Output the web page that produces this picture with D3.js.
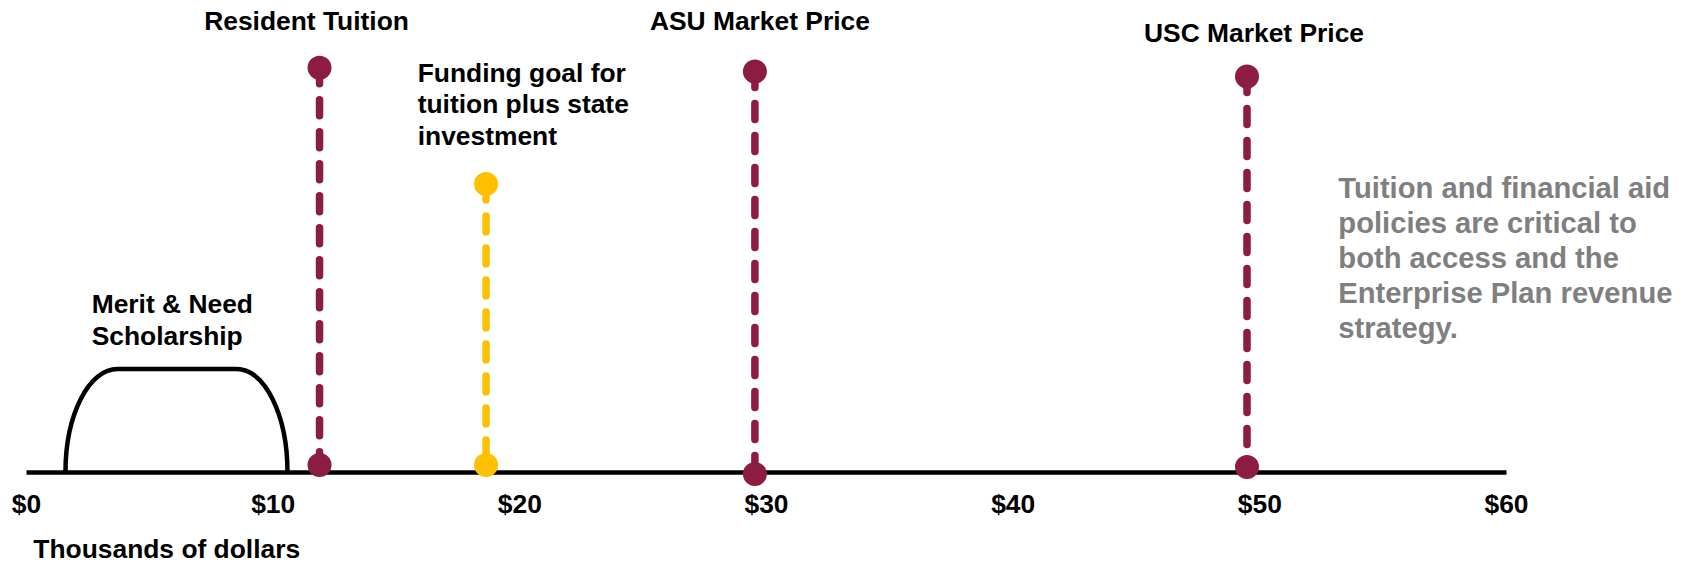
<!DOCTYPE html>
<html>
<head>
<meta charset="utf-8">
<script src="https://cdn.jsdelivr.net/npm/d3@7"></script>
<style>
  body { margin: 0; background: #fff; }
  svg { display: block; font-family: "Liberation Sans", Arial, sans-serif; font-weight: bold; }
</style>
</head>
<body>
<div id="chart"></div>
<script>
// axis ticks (thousands of dollars)
var tickValues = [0, 10, 20, 30, 40, 50, 60];

// price markers: value on the axis, height of the top dot, height of the base dot
var markerNames = ["Resident Tuition", "Funding goal", "ASU Market Price", "USC Market Price"];
var markerValues = [11.9, 18.65, 29.55, 49.5];
var markerTops = [98.1, 69.9, 97.2, 96.0];
var markerBases = [1.7, 1.7, -0.5, 1.2];
var markerKinds = ["price", "goal", "price", "price"];

// scholarship band: foot, shoulder, shoulder, foot (thousands) and its height
var scholarshipRange = [1.6, 3.7, 8.55, 10.6];
var scholarshipLevel = 25;

var noteLines = ["Tuition and financial aid", "policies are critical to", "both access and the", "Enterprise Plan revenue", "strategy."];

var width = 1690, height = 564;
var maroon = "#8C1D40", gold = "#FFC000";

var svg = d3.select("#chart").append("svg")
    .attr("width", width)
    .attr("height", height);

var x = d3.scaleLinear().domain([0, 60]).range([26, 1506]);
var y = d3.scaleLinear().domain([0, 100]).range([472, 60]);

// scholarship hump
var s = scholarshipRange;
var rx = x(s[1]) - x(s[0]), ry = y(0) - y(scholarshipLevel);
svg.append("path")
    .attr("d", "M" + x(s[0]) + "," + y(0) +
      " A" + rx + "," + ry + " 0 0 1 " + x(s[1]) + "," + y(scholarshipLevel) +
      " L" + x(s[2]) + "," + y(scholarshipLevel) +
      " A" + (x(s[3]) - x(s[2])) + "," + ry + " 0 0 1 " + x(s[3]) + "," + y(0))
    .attr("fill", "none")
    .attr("stroke", "#000")
    .attr("stroke-width", 4.5);

// axis
var axis = svg.append("g")
    .attr("transform", "translate(0," + y(0) + ")")
    .call(d3.axisBottom(x).tickValues(tickValues).tickFormat(function(d) { return "$" + d; })
      .tickSize(0).tickSizeOuter(0));
axis.select(".domain").attr("stroke", "#000").attr("stroke-width", 4.5);
axis.selectAll("text")
    .attr("y", 41).attr("dy", null)
    .attr("fill", "#000")
    .style("font-size", "26.4px")
    .style("font-family", "'Liberation Sans', Arial, sans-serif")
    .style("font-weight", "bold");

var markers = markerValues.map(function(v, i) {
  return { name: markerNames[i], value: v, top: markerTops[i], base: markerBases[i], kind: markerKinds[i] };
});

var g = svg.selectAll(".marker").data(markers).enter().append("g").attr("class", "marker");
g.append("line")
    .attr("x1", function(d) { return x(d.value); })
    .attr("x2", function(d) { return x(d.value); })
    .attr("y1", function(d) { return y(d.top); })
    .attr("y2", function(d) { return y(d.base); })
    .attr("stroke", function(d) { return d.kind == "goal" ? gold : maroon; })
    .attr("stroke-width", 7.5)
    .attr("stroke-linecap", "round")
    .attr("stroke-dasharray", "16 16");
g.append("circle")
    .attr("cx", function(d) { return x(d.value); })
    .attr("cy", function(d) { return y(d.top); })
    .attr("r", 12)
    .attr("fill", function(d) { return d.kind == "goal" ? gold : maroon; });
g.append("circle")
    .attr("cx", function(d) { return x(d.value); })
    .attr("cy", function(d) { return y(d.base); })
    .attr("r", 12)
    .attr("fill", function(d) { return d.kind == "goal" ? gold : maroon; });

// labels
function label(lines, px, py, anchor, size, color, lh) {
  var t = svg.append("text")
      .attr("x", px).attr("y", py)
      .attr("text-anchor", anchor)
      .attr("fill", color)
      .style("font-size", size + "px");
  lines.forEach(function(l, i) {
    t.append("tspan").attr("x", px).attr("y", py + i * lh).text(l);
  });
}
label(["Resident Tuition"], x(markerValues[0]) - 13, 29.5, "middle", 26.4, "#000", 31.5);
label(["ASU Market Price"], x(markerValues[2]) + 5, 29.5, "middle", 26.4, "#000", 31.5);
label(["USC Market Price"], x(markerValues[3]) + 7, 41.7, "middle", 26.4, "#000", 31.5);
label(["Funding goal for", "tuition plus state", "investment"], 417.7, 81.7, "start", 26.4, "#000", 31.4);
label(["Merit & Need", "Scholarship"], 91.7, 313.3, "start", 26.4, "#000", 31.7);
label(noteLines, 1338.3, 198.3, "start", 29.2, "#7F7F7F", 35);
label(["Thousands of dollars"], 33.3, 557.5, "start", 26.4, "#000", 31.5);
</script>
</body>
</html>
